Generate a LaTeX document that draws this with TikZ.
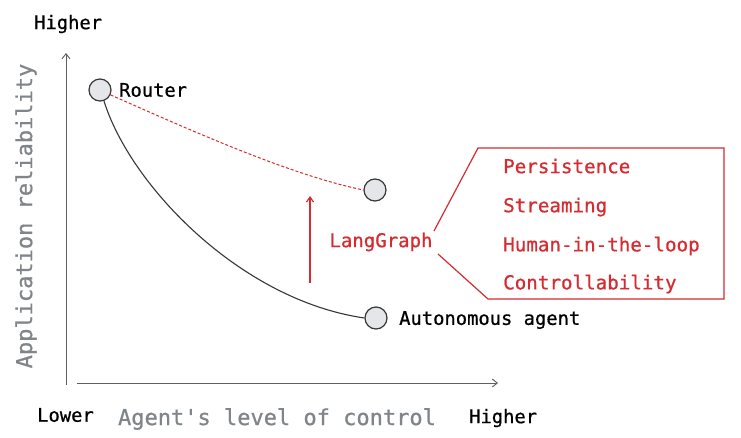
\documentclass[tikz,border=0pt]{standalone}
\usepackage{fontspec}
\newfontfamily\mfont[FakeBold=0.7]{DejaVu Sans Mono}
\usetikzlibrary{arrows.meta}
\definecolor{lgred}{RGB}{212,44,48}
\definecolor{axgray}{RGB}{128,133,138}
\definecolor{cfill}{RGB}{228,230,234}
\definecolor{cdraw}{RGB}{55,55,55}
\tikzset{
  pt/.style={circle,draw=cdraw,fill=cfill,line width=1.2pt,minimum size=22pt,inner sep=0pt},
  lbl/.style={font=\mfont\fontsize{18.8}{20}\selectfont,text=black,inner sep=0pt},
  feat/.style={font=\mfont\fontsize{19.2}{20}\selectfont,text=lgred,inner sep=0pt,anchor=west},
  axlbl/.style={font=\mfont\fontsize{22}{24}\selectfont,text=axgray,inner sep=0pt},
  axis/.style={draw=cdraw!80,line width=0.9pt,-{Straight Barb[length=5pt,width=8pt]}}
}
\begin{document}
\begin{tikzpicture}[x=1pt,y=-1pt]
\useasboundingbox (0,0) rectangle (741,437);
\fill[white] (0,0) rectangle (741,437);
% axes
\coordinate (yb) at (66,385);
\coordinate (yt) at (66,53);
\coordinate (xl) at (77,383);
\coordinate (xr) at (498,383);
\draw[axis] (yb) -- (yt);
\draw[axis] (xl) -- (xr);
\node[lbl,anchor=west] (hiy) at (34,24) {Higher};
\node[lbl,anchor=west] (lo) at (37,415) {Lower};
\node[lbl,anchor=west] (hix) at (469,418) {Higher};
\node[axlbl] (xlab) at (277,419) {Agent's level of control};
\node[axlbl,rotate=90] (ylab) at (26,216) {Application reliability};
% points
\node[pt] (router) at (100,90) {};
\node[pt] (mid) at (375,190) {};
\node[pt] (auto) at (376,318) {};
\node[lbl,anchor=west] (rl) at (119,90) {Router};
\node[lbl,anchor=west] (al) at (399,320) {Autonomous agent};
% curves
\draw[cdraw,line width=1.1pt] (router.-70) .. controls (130,185) and (240,300) .. (auto.west);
\draw[lgred,line width=1pt,dash pattern=on 3pt off 2pt] (router.-25) .. controls (190,130) and (290,175) .. (mid.west);
\coordinate (ab) at (310,283);
\coordinate (at) at (310,196);
\draw[lgred,line width=1.2pt,-{Straight Barb[length=5pt,width=7pt]}] (ab) -- (at);
% LangGraph
\node[font=\mfont\fontsize{19}{20}\selectfont,text=lgred,inner sep=0pt] (lg) at (381,242) {LangGraph};
\draw[lgred,line width=1.2pt] (434,231) -- (478,148) -- (724,148) -- (724,299) -- (488,299) -- (438,254);
\node[feat] (f1) at (503,166) {Persistence};
\node[feat] (f2) at (503,207) {Streaming};
\node[feat] (f3) at (503,246) {Human-in-the-loop};
\node[feat] (f4) at (503,284) {Controllability};
\end{tikzpicture}
\end{document}
